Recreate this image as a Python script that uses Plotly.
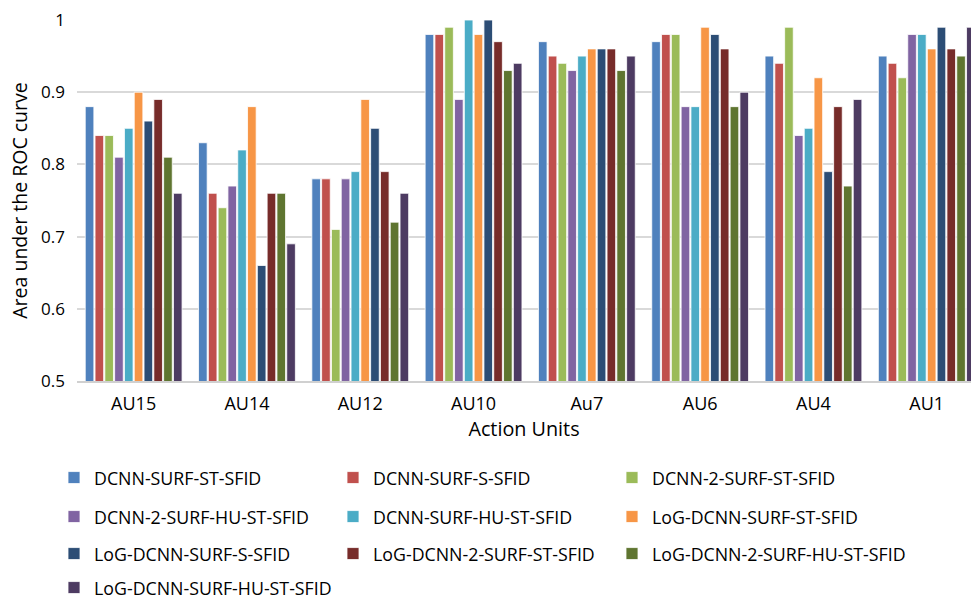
import plotly.graph_objects as go

categories = ["AU15", "AU14", "AU12", "AU10", "Au7", "AU6", "AU4", "AU1"]

series_names = [
    "DCNN-SURF-ST-SFID",
    "DCNN-SURF-S-SFID",
    "DCNN-2-SURF-ST-SFID",
    "DCNN-2-SURF-HU-ST-SFID",
    "DCNN-SURF-HU-ST-SFID",
    "LoG-DCNN-SURF-ST-SFID",
    "LoG-DCNN-SURF-S-SFID",
    "LoG-DCNN-2-SURF-ST-SFID",
    "LoG-DCNN-2-SURF-HU-ST-SFID",
    "LoG-DCNN-SURF-HU-ST-SFID",
]

dcnn_surf_st = [0.88, 0.83, 0.78, 0.98, 0.97, 0.97, 0.95, 0.95]
dcnn_surf_s = [0.84, 0.76, 0.78, 0.98, 0.95, 0.98, 0.94, 0.94]
dcnn2_surf_st = [0.84, 0.74, 0.71, 0.99, 0.94, 0.98, 0.99, 0.92]
dcnn2_surf_hu_st = [0.81, 0.77, 0.78, 0.89, 0.93, 0.88, 0.84, 0.98]
dcnn_surf_hu_st = [0.85, 0.82, 0.79, 1.00, 0.95, 0.88, 0.85, 0.98]
log_dcnn_surf_st = [0.90, 0.88, 0.89, 0.98, 0.96, 0.99, 0.92, 0.96]
log_dcnn_surf_s = [0.86, 0.66, 0.85, 1.00, 0.96, 0.98, 0.79, 0.99]
log_dcnn2_surf_st = [0.89, 0.76, 0.79, 0.97, 0.96, 0.96, 0.88, 0.96]
log_dcnn2_surf_hu_st = [0.81, 0.76, 0.72, 0.93, 0.93, 0.88, 0.77, 0.95]
log_dcnn_surf_hu_st = [0.76, 0.69, 0.76, 0.94, 0.95, 0.90, 0.89, 0.99]

series_values = [
    dcnn_surf_st, dcnn_surf_s, dcnn2_surf_st, dcnn2_surf_hu_st, dcnn_surf_hu_st,
    log_dcnn_surf_st, log_dcnn_surf_s, log_dcnn2_surf_st, log_dcnn2_surf_hu_st,
    log_dcnn_surf_hu_st,
]

colors = ["#4F81BD", "#C0504D", "#9BBB59", "#8064A2", "#4BACC6",
          "#F79646", "#2C4D75", "#772C2A", "#5F7530", "#4D3B62"]

FONT = "Open Sans"

# plot area in pixels
W, H = 971, 603
plot_left, plot_top, plot_bottom = 77, 20, 381
plot_h = plot_bottom - plot_top
plot_w = W - plot_left
cat_px = 113.3

# legend grid (3 columns), one legend per entry
col_x_px = [54, 333, 612]
row_y_px = [478, 517, 554, 588]

fig = go.Figure()
legend_layout = {}
for i, (name, vals, col) in enumerate(zip(series_names, series_values, colors)):
    ln = "legend" if i == 0 else f"legend{i + 1}"
    fig.add_trace(go.Bar(
        x=categories, y=vals, name=name,
        marker=dict(color=col, line=dict(color="white", width=0.8)),
        legend=ln,
    ))
    r, c = divmod(i, 3)
    legend_layout[ln] = dict(
        orientation="h",
        x=(col_x_px[c] - plot_left) / plot_w, xanchor="left",
        y=(plot_bottom - row_y_px[r]) / plot_h, yanchor="middle",
        font=dict(family=FONT, size=17.8, color="#000000"),
        bgcolor="rgba(0,0,0,0)",
    )

# visible range: right end of the category axis is cropped by the window
x_right = -0.5 + plot_w / cat_px

fig.update_layout(
    width=W, height=H,
    margin=dict(l=plot_left, r=0, t=plot_top, b=H - plot_bottom, autoexpand=False),
    paper_bgcolor="white", plot_bgcolor="white",
    barmode="group", bargap=0.135, bargroupgap=0.12,
    font=dict(family=FONT, size=17, color="#000000"),
    xaxis=dict(
        range=[-0.5, x_right],
        showgrid=False, showline=True, linecolor="#D0D0D0", linewidth=1.5,
        ticks="", tickfont=dict(size=18), ticklabelstandoff=6,
        title=dict(text="Action Units", font=dict(size=19.8), standoff=8),
    ),
    yaxis=dict(
        range=[0.5, 1.0],
        tickvals=[0.5, 0.6, 0.7, 0.8, 0.9, 1.0],
        ticktext=["0.5", "0.6", "0.7", "0.8", "0.9", "1"],
        showgrid=True, gridcolor="#D9D9D9", gridwidth=1.5,
        zeroline=False, showline=False, ticks="",
        tickfont=dict(size=17), ticklabelstandoff=11,
        title=dict(text="Area under the ROC curve", font=dict(size=19.5), standoff=8),
    ),
    showlegend=True,
    **legend_layout,
)

fig.write_html("out.html")
